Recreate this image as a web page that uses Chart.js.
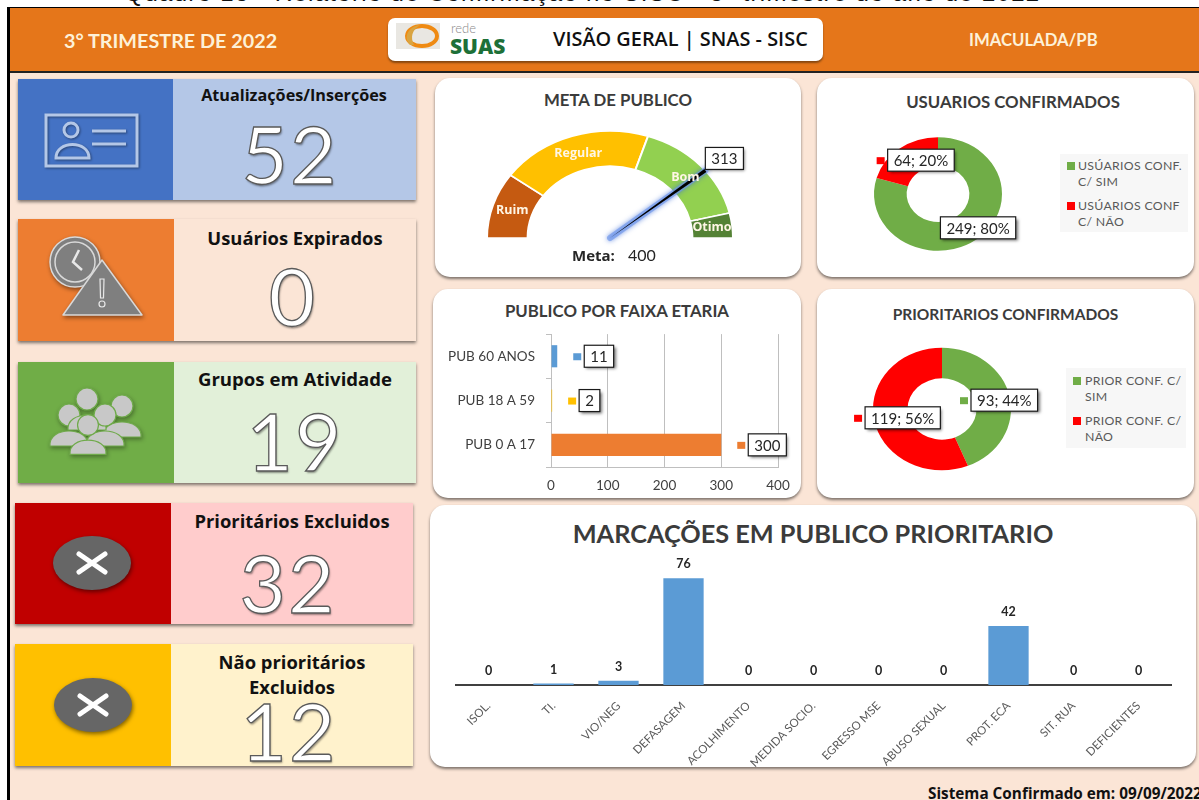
<!DOCTYPE html>
<html lang="pt">
<head>
<meta charset="utf-8">
<title>Quadro 13</title>
<script src="https://cdn.jsdelivr.net/npm/chart.js@4"></script>
<style>
  html, body { margin: 0; padding: 0; background: #fff; }
  #page { position: relative; width: 1199px; height: 800px; overflow: hidden; background: #fff; font-family: Lato, sans-serif; }
  #page > * { position: absolute; }
  #caption { left: 0; width: 1165px; top: -21px; text-align: center; font: 24px "Liberation Sans", sans-serif; letter-spacing: 1.3px; white-space: nowrap; color: #111; }
  #sheet { left: 7px; top: 7px; width: 1192px; height: 793px; background: #fbe5d6; border-left: 3px solid #000; border-top: 1px solid #000; box-sizing: border-box; }
  #header { left: 10px; top: 8px; width: 1189px; height: 63px; background: #e5761a; border-bottom: 2px solid #222; box-sizing: content-box; }
  .head-text { top: 28px; font-weight: 700; font-size: 19.8px; line-height: 24px; color: #fdf1d8; white-space: nowrap; }
  #logoBox { left: 388px; top: 18px; width: 435px; height: 43px; background: #fff; border-radius: 7px; box-shadow: 0 2px 2px rgba(70,40,10,.6); }
  #logoBox > * { position: absolute; }

  .stat-left, .stat-right { box-shadow: 0 2px 3px rgba(0,0,0,.5); }
  .stat-title { width: 242px; text-align: center; font: 700 18.4px/25px "Open Sans", sans-serif; color: #111; }
  .stat-value { width: 242px; text-align: center; font: 400 80px/80px Lato, sans-serif; letter-spacing: 2px; color: #fff; -webkit-text-stroke: 1.3px #5a5a5a; text-shadow: 1px 2px 2px rgba(0,0,0,.4); }

  .card { background: #fff; border-radius: 15px; box-shadow: 0 2px 3px rgba(0,0,0,.5); }
  .chart-title { text-align: center; font: 700 16.8px/20px Lato, sans-serif; color: #3b3b3b; white-space: nowrap; }
  canvas { position: absolute; }
  .legend { background: #f7f7f7; color: #595959; font: 12.3px/16px Lato, sans-serif; box-sizing: border-box; }
  .legend i { position: absolute; width: 8px; height: 8px; }
  .legend span { position: absolute; white-space: pre; letter-spacing: .3px; }
  #meta { left: 572px; top: 245px; font: 16px/20px Lato, sans-serif; color: #262626; white-space: pre; }
  #meta b { font-family: "Open Sans", sans-serif; font-size: 15px; margin-right: 5px; }
  #footer { left: 928px; top: 784px; font: 700 15.3px/18px "Open Sans", sans-serif; color: #111; white-space: nowrap; }
</style>
</head>
<body>
<div id="page">
  <div id="caption">Quadro 13 - Relatório de Confirmação no SISC - 3º trimestre do ano de 2022</div>
  <div id="sheet"></div>
  <div id="header"></div>
  <div class="head-text" style="left:64px">3° TRIMESTRE DE 2022</div>
  <div class="head-text" style="left:969px;font-size:16.7px">IMACULADA/PB</div>
  <div id="logoBox">
    <svg style="left:8px;top:3px" width="56" height="30" viewBox="0 0 56 30">
      <rect x="0" y="2" width="44" height="26" fill="#e9e7e2"/>
      <ellipse cx="26" cy="15" rx="15" ry="10" fill="none" stroke="#ef8a12" stroke-width="4"/>
      <path d="M14 24 C 6 15, 14 5, 24 4 C 16 9, 14 16, 18 24 Z" fill="#d9a441"/>
    </svg>
    <div style="left:63px;top:2px;font:300 13px/16px Lato,sans-serif;color:#8a8a8a">rede</div>
    <div style="left:62px;top:16px;font:900 21px/24px 'Open Sans',sans-serif;color:#1d7038">SUAS</div>
    <div style="left:165px;top:9px;font:600 19.9px/24px 'Open Sans',sans-serif;color:#111;white-space:nowrap">VISÃO GERAL | SNAS - SISC</div>
  </div>

  <div id="stats"></div>

  <div class="card" style="left:435px;top:78px;width:366px;height:199px"></div>
  <div class="card" style="left:817px;top:78px;width:377px;height:199px"></div>
  <div class="card" style="left:433px;top:289px;width:368px;height:209px"></div>
  <div class="card" style="left:817px;top:289px;width:377px;height:209px"></div>
  <div class="card" style="left:430px;top:505px;width:766px;height:262px"></div>

  <div class="chart-title" style="left:435px;width:366px;top:90px">META DE PUBLICO</div>
  <div class="chart-title" style="left:817px;width:392px;top:92px">USUARIOS CONFIRMADOS</div>
  <div class="chart-title" style="left:433px;width:368px;top:301px">PUBLICO POR FAIXA ETARIA</div>
  <div class="chart-title" style="left:817px;width:377px;top:304px;font-size:15.5px">PRIORITARIOS CONFIRMADOS</div>
  <div class="chart-title" style="left:430px;width:766px;top:518px;font-size:25.3px;line-height:30px;font-weight:700">MARCAÇÕES EM PUBLICO PRIORITARIO</div>

  <canvas id="gaugeChart" style="left:440px;top:110px"></canvas>
  <canvas id="usersChart" style="left:818px;top:111px"></canvas>
  <canvas id="ageChart" style="left:433px;top:315px"></canvas>
  <canvas id="priorChart" style="left:818px;top:326px"></canvas>
  <canvas id="marksChart" style="left:430px;top:545px"></canvas>

  <div id="meta"></div>
  <div class="legend" id="usersLegend" style="left:1060px;top:154px;width:128px;height:78px"></div>
  <div class="legend" id="priorLegend" style="left:1066px;top:368px;width:120px;height:80px"></div>
  <div id="footer">Sistema Confirmado em: 09/09/2022</div>
</div>

<script>
// ---- Data ----
const statTitles = ['Atualizações/Inserções', 'Usuários Expirados', 'Grupos em Atividade', 'Prioritários Excluidos', 'Não prioritários\nExcluidos'];
const statValues = ['52', '0', '19', '32', '12'];

const gaugeLabels = ['Ruim', 'Regular', 'Bom', 'Ótimo'];
const gaugeValues = [80, 160, 130, 30];
const gaugeReading = 313;
const gaugeTarget = 400;

const usersLabels = ['USÚARIOS CONF.\nC/ SIM', 'USÚARIOS CONF\nC/ NÃO'];
const usersValues = [249, 64];

const priorLabels = ['PRIOR CONF. C/\nSIM', 'PRIOR CONF. C/\nNÃO'];
const priorValues = [93, 119];

const ageLabels = ['PUB 60 ANOS', 'PUB 18 A 59', 'PUB 0 A 17'];
const ageValues = [11, 2, 300];
const ageTicks = [0, 100, 200, 300, 400];

const markLabels = ['ISOL.', 'TI.', 'VIO/NEG', 'DEFASAGEM', 'ACOLHIMENTO', 'MEDIDA SOCIO.', 'EGRESSO MSE', 'ABUSO SEXUAL', 'PROT. ECA', 'SIT. RUA', 'DEFICIENTES'];
const markValues = [0, 1, 3, 76, 0, 0, 0, 0, 42, 0, 0];

const gaugeColors = ['#c55a11', '#ffc000', '#92d050', '#548235'];
const donutColors = ['#70ad47', '#ff0000'];
const ageColors = ['#5b9bd5', '#ffc000', '#ed7d31'];
const GREY = '#404040';

// ---- Stat cards on the left ----

const statBoxes = [
  { x: 18, y: 79, h: 121, split: 173, right: 416, dark: '#4472c4', light: '#b4c7e7', titleY: 83, titleSize: 16.2, valueY: 113, valueX: 169 },
  { x: 18, y: 219, h: 122, split: 174, right: 416, dark: '#ed7d31', light: '#fbe5d6', titleY: 225, titleSize: 18.4, valueY: 255, valueX: 172 },
  { x: 18, y: 362, h: 121, split: 174, right: 416, dark: '#70ad47', light: '#e2f0d9', titleY: 366, titleSize: 18.6, valueY: 400, valueX: 174 },
  { x: 15, y: 503, h: 121, split: 171, right: 413, dark: '#c00000', light: '#ffcccc', titleY: 508, titleSize: 18.4, valueY: 542, valueX: 167 },
  { x: 15, y: 644, h: 122, split: 171, right: 413, dark: '#ffc000', light: '#fff2cc', titleY: 649, titleSize: 18.4, valueY: 690, valueX: 168 },
];

const closeIcon = (cx, cy) => `
  <ellipse cx="${cx}" cy="${cy}" rx="39" ry="27" fill="#666" style="filter:drop-shadow(1px 2px 2px rgba(0,0,0,.5))"/>
  <path d="M${cx - 13} ${cy - 9} L${cx + 13} ${cy + 9} M${cx + 13} ${cy - 9} L${cx - 13} ${cy + 9}" stroke="#fff" stroke-width="5" stroke-linecap="round"/>`;

const person = (cx, cy, s) => `
  <circle cx="${cx}" cy="${cy}" r="${11 * s}" fill="#c8c8c8" stroke="#6faa4a" stroke-width="1.2"/>
  <path d="M${cx - 19 * s} ${cy + 31 * s} C${cx - 21 * s} ${cy + 11 * s} ${cx + 21 * s} ${cy + 11 * s} ${cx + 19 * s} ${cy + 31 * s} Z" fill="#c8c8c8" stroke="#6faa4a" stroke-width="1.2"/>`;

const statIcons = [
  `<g fill="none" stroke="#b4c7e7" stroke-width="3" style="filter:drop-shadow(1px 1px 1px rgba(0,0,0,.4))">
     <rect x="46" y="115" width="91" height="51"/>
     <circle cx="71" cy="130" r="7"/>
     <path d="M56 158 C56 140 89 140 89 158 Z"/>
     <path d="M92 131 H126 M92 144 H126"/>
   </g>`,
  `<g style="filter:drop-shadow(1px 2px 2px rgba(0,0,0,.45))">
     <circle cx="75" cy="262" r="25" fill="#7f7f7f" stroke="#d9d9d9" stroke-width="1.5"/>
     <circle cx="75" cy="262" r="20" fill="#7f7f7f" stroke="#d9d9d9" stroke-width="1.5"/>
     <path d="M79 250 L73 262 L82 270" fill="none" stroke="#e8e8e8" stroke-width="2.5"/>
     <path d="M102 260 L142 315 H63 Z" fill="#7f7f7f" stroke="#d9d9d9" stroke-width="1.5" stroke-linejoin="round"/>
     <path d="M100 279 H104 L103.5 298 H100.5 Z" fill="none" stroke="#e8e8e8" stroke-width="1.2"/>
     <circle cx="102" cy="304" r="3" fill="none" stroke="#e8e8e8" stroke-width="1.2"/>
   </g>`,
  `<g style="filter:drop-shadow(1px 2px 2px rgba(0,0,0,.35))">
     ${person(122, 406, 1)}${person(69, 415, 1)}${person(87, 399, 1)}${person(105, 415, 1)}${person(88, 425, .95)}
   </g>`,
  closeIcon(92, 563),
  closeIcon(93, 705),
];

function renderStats() {
  document.getElementById('stats').innerHTML = statBoxes.map((b, i) => {
    const lines = statTitles[i].split('\n').join('<br>');
    return `
      <div class="stat-left" style="position:absolute;left:${b.x}px;top:${b.y}px;width:${b.right - b.x}px;height:${b.h}px;background:${b.light}"></div>
      <div style="position:absolute;left:${b.x}px;top:${b.y}px;width:${b.split - b.x}px;height:${b.h}px;background:${b.dark}"></div>
      <div class="stat-title" style="position:absolute;left:${b.split}px;top:${b.titleY}px;font-size:${b.titleSize}px">${lines}</div>
      <div class="stat-value" style="position:absolute;left:${b.valueX}px;top:${b.valueY}px">${statValues[i]}</div>`;
  }).join('') + `<svg style="position:absolute;left:0;top:0" width="430" height="800">${statIcons.join('')}</svg>`;
}

function renderLegend(id, labels, markerX, textX, lineYs) {
  const box = document.getElementById(id);
  box.innerHTML = labels.map((l, i) => `
    <i style="left:${markerX}px;top:${lineYs[i] + 4}px;background:${donutColors[i]}"></i>
    <span style="left:${textX}px;top:${lineYs[i]}px">${l}</span>`).join('');
}

// ---- Shared drawing helpers ----

function boxLabel(ctx, x, y, text, font, markerColor) {
  // marker + framed text, centred on x,y like the excel callouts
  ctx.save();
  ctx.font = font;
  const w = ctx.measureText(text).width + 12;
  const mw = markerColor ? 11 : 0;
  const left = x - (w + mw) / 2;
  if (markerColor) {
    ctx.fillStyle = markerColor;
    ctx.fillRect(left, y - 3, 8, 7);
  }
  ctx.save();
  ctx.shadowColor = 'rgba(0,0,0,.55)';
  ctx.shadowBlur = 3;
  ctx.shadowOffsetX = 2;
  ctx.shadowOffsetY = 2;
  ctx.fillStyle = '#fff';
  ctx.fillRect(left + mw, y - 11, w, 22);
  ctx.restore();
  ctx.strokeStyle = '#1a1a1a';
  ctx.lineWidth = 1.2;
  ctx.strokeRect(left + mw, y - 11, w, 22);
  ctx.fillStyle = '#262626';
  ctx.textAlign = 'center';
  ctx.textBaseline = 'middle';
  ctx.fillText(text, left + mw + w / 2, y + 1);
  ctx.restore();
}

// the rings in the picture are flatter than a circle, so squeeze only the arcs
const squash = {
  id: 'squash',
  beforeDatasetsDraw(chart, args, opts) {
    const arc = chart.getDatasetMeta(0).data[0];
    chart.ctx.save();
    chart.ctx.translate(arc.x, arc.y);
    chart.ctx.scale(1, opts.k);
    chart.ctx.translate(-arc.x, -arc.y);
  },
  afterDatasetsDraw(chart) {
    chart.ctx.restore();
  },
};

function squashedPos(arc, k) {
  const p = arc.tooltipPosition();
  return { x: p.x, y: arc.y + (p.y - arc.y) * k };
}

const donutLabels = {
  id: 'donutLabels',
  afterDraw(chart) {
    const values = chart.data.datasets[0].data;
    const total = values.reduce((a, b) => a + b, 0);
    const k = chart.options.plugins.squash.k;
    chart.getDatasetMeta(0).data.forEach((arc, i) => {
      const p = squashedPos(arc, k);
      const text = `${values[i]}; ${Math.round(values[i] / total * 100)}%`;
      boxLabel(chart.ctx, p.x + 6, p.y, text, '15px Lato', donutColors[i]);
    });
  },
};

const gaugeDecor = {
  id: 'gaugeDecor',
  afterDraw(chart) {
    const ctx = chart.ctx;
    const k = chart.options.plugins.squash.k;
    const arcs = chart.getDatasetMeta(0).data;
    // needle
    const c = arcs[0];
    const a = Math.PI + Math.PI * gaugeReading / gaugeTarget;
    const tipX = c.x + c.outerRadius * Math.cos(a);
    const tipY = c.y + c.outerRadius * Math.sin(a) * k;
    const nx = -(tipY - c.y), ny = tipX - c.x;
    const len = Math.hypot(nx, ny);
    ctx.save();
    ctx.shadowColor = '#3f6fd8';
    ctx.shadowBlur = 5;
    ctx.strokeStyle = 'rgba(110,150,235,.65)';
    ctx.lineWidth = 6;
    ctx.lineCap = 'round';
    ctx.beginPath();
    ctx.moveTo(c.x, c.y);
    ctx.lineTo(tipX, tipY);
    ctx.stroke();
    ctx.shadowBlur = 0;
    ctx.fillStyle = '#000';
    ctx.beginPath();
    ctx.moveTo(c.x, c.y);
    ctx.lineTo(tipX + nx / len * 1.8, tipY + ny / len * 1.8);
    ctx.lineTo(tipX - nx / len * 1.8, tipY - ny / len * 1.8);
    ctx.closePath();
    ctx.fill();
    ctx.restore();
    arcs.forEach((arc, i) => {
      const p = squashedPos(arc, k);
      ctx.save();
      ctx.font = 'bold 12.5px "Open Sans"';
      ctx.fillStyle = '#fff6e5';
      ctx.textAlign = 'center';
      ctx.textBaseline = 'middle';
      ctx.fillText(gaugeLabels[i], p.x, p.y);
      ctx.restore();
    });
    boxLabel(ctx, tipX + 19, tipY - 12, String(gaugeReading), '15px Lato');
  },
};

const ageLabelsPlugin = {
  id: 'ageBoxes',
  afterDraw(chart) {
    chart.getDatasetMeta(0).data.forEach((bar, i) => {
      const text = String(ageValues[i]);
      chart.ctx.font = '15px Lato';
      const w = chart.ctx.measureText(text).width + 12 + 11;
      boxLabel(chart.ctx, bar.x + 16 + w / 2, bar.y, text, '15px Lato', ageColors[i]);
    });
  },
};

const markValueLabels = {
  id: 'markValueLabels',
  afterDatasetsDraw(chart) {
    const ctx = chart.ctx;
    ctx.save();
    ctx.font = 'bold 12.5px Lato';
    ctx.fillStyle = '#262626';
    ctx.textAlign = 'center';
    ctx.textBaseline = 'middle';
    chart.getDatasetMeta(0).data.forEach((bar, i) => {
      ctx.fillText(String(markValues[i]), bar.x, bar.y - 14);
    });
    ctx.restore();
  },
};

// ---- Charts ----

function ringOptions(k, cut, padding) {
  return {
    responsive: false,
    animation: false,
    cutout: cut,
    rotation: 0,
    layout: { padding },
    plugins: { legend: { display: false }, tooltip: { enabled: false }, squash: { k } },
  };
}

function renderCharts() {
  const gauge = document.getElementById('gaugeChart');
  gauge.width = 340; gauge.height = 168;
  const gaugeOpts = ringOptions(0.87, '67%', { left: 46, right: 46, top: 3, bottom: 38 });
  gaugeOpts.rotation = -90;
  gaugeOpts.circumference = 180;
  new Chart(gauge, {
    type: 'doughnut',
    data: { labels: gaugeLabels, datasets: [{ data: gaugeValues, backgroundColor: gaugeColors, borderColor: '#fff', borderWidth: 2 }] },
    options: gaugeOpts,
    plugins: [squash, gaugeDecor],
  });

  const users = document.getElementById('usersChart');
  users.width = 240; users.height = 166;
  new Chart(users, {
    type: 'doughnut',
    data: { labels: usersLabels, datasets: [{ data: usersValues, backgroundColor: donutColors, borderWidth: 0 }] },
    options: ringOptions(0.886, '49%', { top: 19, bottom: 19 }),
    plugins: [squash, donutLabels],
  });

  const prior = document.getElementById('priorChart');
  prior.width = 248; prior.height = 166;
  new Chart(prior, {
    type: 'doughnut',
    data: { labels: priorLabels, datasets: [{ data: priorValues, backgroundColor: donutColors, borderWidth: 0 }] },
    options: ringOptions(0.889, '50%', { top: 14, bottom: 14 }),
    plugins: [squash, donutLabels],
  });

  const age = document.getElementById('ageChart');
  age.width = 368; age.height = 182;
  new Chart(age, {
    type: 'bar',
    data: { labels: ageLabels, datasets: [{ data: ageValues, backgroundColor: ageColors, barPercentage: 0.5, categoryPercentage: 1 }] },
    options: {
      indexAxis: 'y',
      responsive: false,
      animation: false,
      layout: { padding: { top: 0, right: 23 } },
      plugins: { legend: { display: false }, tooltip: { enabled: false } },
      scales: {
        x: {
          min: 0, max: 400,
          afterBuildTicks: s => { s.ticks = ageTicks.map(v => ({ value: v })); },
          afterFit: s => { s.height = 30; },
          grid: { color: '#bfbfbf', drawTicks: false },
          border: { color: '#bfbfbf' },
          ticks: { color: GREY, font: { family: 'Lato', size: 13.5 }, padding: 11 },
        },
        y: {
          afterFit: s => { s.width = 118; },
          grid: { drawOnChartArea: false, color: '#bfbfbf', tickLength: 5 },
          border: { color: '#bfbfbf' },
          ticks: { color: GREY, font: { family: 'Lato', size: 13.5 }, padding: 11 },
        },
      },
    },
    plugins: [ageLabelsPlugin],
  });

  const marks = document.getElementById('marksChart');
  marks.width = 766; marks.height = 222;
  new Chart(marks, {
    type: 'bar',
    data: { labels: markLabels, datasets: [{ data: markValues, backgroundColor: '#5b9bd5', barPercentage: 0.62, categoryPercentage: 1 }] },
    options: {
      responsive: false,
      animation: false,
      layout: { padding: { top: 8, left: 26, right: 25 } },
      plugins: { legend: { display: false }, tooltip: { enabled: false } },
      scales: {
        y: { display: false, min: 0, max: 94 },
        x: {
          afterFit: s => { s.height = 82; },
          grid: { display: false },
          border: { color: GREY, width: 2 },
          ticks: { color: '#595959', font: { family: 'Lato', size: 11.5 }, minRotation: 45, maxRotation: 45, padding: 6, autoSkip: false },
        },
      },
    },
    plugins: [markValueLabels],
  });
}

document.getElementById('meta').innerHTML = `<b>Meta:</b>  ${gaugeTarget}`;
renderStats();
renderLegend('usersLegend', usersLabels, 7, 18, [4, 44]);
renderLegend('priorLegend', priorLabels, 7, 19, [5, 45]);
renderCharts();
</script>
</body>
</html>
